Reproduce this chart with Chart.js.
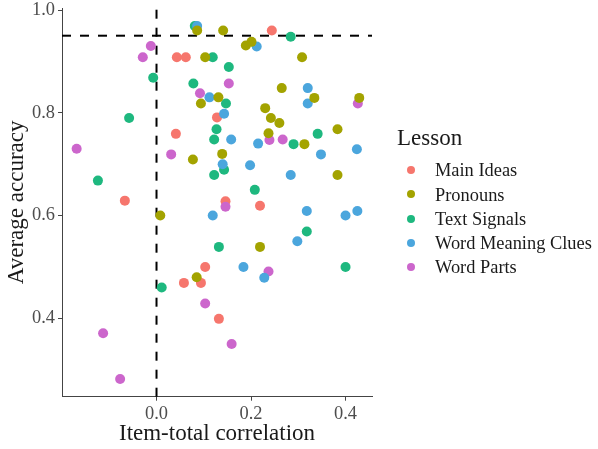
<!DOCTYPE html>
<html><head><meta charset="utf-8">
<script src="https://cdn.jsdelivr.net/npm/chart.js@4/dist/chart.umd.min.js"></script>
<style>
html,body{margin:0;padding:0;background:#fff;}
#wrap{position:relative;width:598px;height:449px;overflow:hidden;}
#c{position:absolute;left:0;top:0;}
.lg{position:absolute;font-family:"Liberation Serif","Times New Roman",serif;color:#1a1a1a;line-height:1;white-space:nowrap;}
.dot{position:absolute;width:8px;height:8px;border-radius:50%;}
</style></head><body>
<div id="wrap"><canvas id="c" width="598" height="449"></canvas><div id="legend"></div></div>
<script>
// ---- data ----
const lessons = ["Main Ideas", "Pronouns", "Text Signals", "Word Meaning Clues", "Word Parts"];
const lessonColors = ["#F6766D", "#A3A300", "#1EB87F", "#4BA6DD", "#CC66CC"];

const mainIdeasX = [0.244, 0.043, 0.062, 0.128, 0.041, -0.067, 0.146, 0.219, 0.103, 0.058, 0.094, 0.132];
const mainIdeasY = [0.960, 0.908, 0.908, 0.791, 0.759, 0.629, 0.628, 0.619, 0.500, 0.469, 0.469, 0.399];

const pronounsX = [0.086, 0.141, 0.189, 0.201, 0.103, 0.308, 0.265, 0.131, 0.334, 0.429, 0.094, 0.230, 0.242, 0.260, 0.237, 0.383, 0.313, 0.139, 0.077, 0.383, 0.008, 0.219, 0.085];
const pronounsY = [0.960, 0.960, 0.931, 0.938, 0.908, 0.908, 0.848, 0.830, 0.829, 0.829, 0.818, 0.809, 0.790, 0.780, 0.760, 0.768, 0.739, 0.720, 0.709, 0.679, 0.600, 0.539, 0.480];

const textSignalsX = [0.081, 0.284, 0.119, 0.153, -0.007, 0.078, 0.147, -0.058, 0.127, 0.341, 0.122, 0.290, 0.143, 0.122, -0.124, 0.208, 0.318, 0.132, 0.400, 0.011];
const textSignalsY = [0.969, 0.948, 0.908, 0.889, 0.868, 0.857, 0.818, 0.790, 0.768, 0.759, 0.748, 0.739, 0.689, 0.679, 0.668, 0.650, 0.569, 0.539, 0.500, 0.460];

const wordMeaningX = [0.086, 0.212, 0.320, 0.112, 0.320, 0.143, 0.158, 0.215, 0.424, 0.348, 0.140, 0.198, 0.284, 0.318, 0.425, 0.119, 0.400, 0.298, 0.184, 0.228];
const wordMeaningY = [0.969, 0.929, 0.848, 0.830, 0.818, 0.798, 0.748, 0.740, 0.729, 0.719, 0.700, 0.698, 0.679, 0.609, 0.609, 0.600, 0.600, 0.550, 0.500, 0.479];

const wordPartsX = [-0.012, -0.029, 0.153, 0.092, 0.426, 0.239, 0.267, -0.169, 0.031, 0.146, 0.237, 0.103, -0.113, 0.159, -0.077];
const wordPartsY = [0.930, 0.908, 0.857, 0.838, 0.818, 0.747, 0.748, 0.730, 0.719, 0.617, 0.491, 0.429, 0.371, 0.350, 0.282];

const xTicks = [0.0, 0.2, 0.4];
const yTicks = [0.4, 0.6, 0.8, 1.0];
const xRef = 0;      // vertical dashed reference
const yRef = 0.95;   // horizontal dashed reference
const xTitle = "Item-total correlation";
const yTitle = "Average accuracy";
const legendTitle = "Lesson";

// ---- build ----
const seriesX = [mainIdeasX, pronounsX, textSignalsX, wordMeaningX, wordPartsX];
const seriesY = [mainIdeasY, pronounsY, textSignalsY, wordMeaningY, wordPartsY];
const drawOrder = [4, 0, 2, 1, 3];

const FONT = '"Liberation Serif", "Times New Roman", serif';

const datasets = lessons.map((name, i) => ({
  label: name,
  data: seriesX[i].map((x, k) => ({x: x, y: seriesY[i][k]})),
  backgroundColor: lessonColors[i],
  borderWidth: 0,
  pointRadius: 5,
  pointHoverRadius: 5,
  order: drawOrder[i]
}));

const refLines = {
  id: 'refLines',
  beforeDatasetsDraw(chart) {
    const {ctx, chartArea: a, scales: {x, y}} = chart;
    ctx.save();
    ctx.strokeStyle = '#000';
    ctx.lineWidth = 2;
    ctx.setLineDash([9, 9]);
    const px = x.getPixelForValue(xRef);
    ctx.beginPath(); ctx.moveTo(px, a.bottom); ctx.lineTo(px, a.top); ctx.stroke();
    const py = y.getPixelForValue(yRef);
    ctx.beginPath(); ctx.moveTo(a.left, py); ctx.lineTo(a.right, py); ctx.stroke();
    ctx.restore();
  }
};

new Chart(document.getElementById('c'), {
  type: 'scatter',
  data: {datasets},
  plugins: [refLines],
  options: {
    responsive: false,
    animation: false,
    devicePixelRatio: 1,
    layout: {padding: {top: 8, right: 226, bottom: 0, left: 0}},
    plugins: {legend: {display: false}, tooltip: {enabled: false}},
    events: [],
    scales: {
      x: {
        type: 'linear', min: -0.200, max: 0.456,
        afterBuildTicks: s => { s.ticks = xTicks.map(v => ({value: v})); },
        afterFit: s => { s.height = 52.3; s.paddingLeft = 0; s.paddingRight = 0; },
        ticks: {callback: v => Number(v).toFixed(1), color: '#4D4D4D', font: {family: FONT, size: 18.4}, padding: 2, maxRotation: 0},
        grid: {drawOnChartArea: false, drawTicks: true, tickLength: 4, color: '#444'},
        border: {display: true, color: '#444', width: 1},
        title: {display: true, text: xTitle, color: '#1a1a1a', font: {family: FONT, size: 23}, padding: {top: 0, bottom: 1}}
      },
      y: {
        type: 'linear', min: 0.2475, max: 1.0039,
        afterBuildTicks: s => { s.ticks = yTicks.map(v => ({value: v})); },
        afterFit: s => { s.width = 62; s.paddingTop = 0; s.paddingBottom = 0; },
        ticks: {callback: v => Number(v).toFixed(1), color: '#4D4D4D', font: {family: FONT, size: 18.4}, padding: 3},
        grid: {drawOnChartArea: false, drawTicks: true, tickLength: 4, color: '#444'},
        border: {display: true, color: '#444', width: 1},
        title: {display: true, text: yTitle, color: '#1a1a1a', font: {family: FONT, size: 23}, padding: {top: 3, bottom: 0}}
      }
    }
  }
});

// ---- legend (HTML text) ----
const lg = document.getElementById('legend');
function addText(txt, left, baseline, size) {
  const d = document.createElement('div');
  d.className = 'lg';
  d.style.fontSize = size + 'px';
  d.style.left = left + 'px';
  d.style.top = (baseline - 0.8375 * size) + 'px';
  d.textContent = txt;
  lg.appendChild(d);
}
addText(legendTitle, 397, 145, 23);
const itemBase0 = 176.7, itemStep = 24.3;
lessons.forEach((name, i) => {
  const base = itemBase0 + i * itemStep;
  const dot = document.createElement('div');
  dot.className = 'dot';
  dot.style.background = lessonColors[i];
  dot.style.left = (410.7 - 4) + 'px';
  dot.style.top = (base - 6.7 - 4) + 'px';
  lg.appendChild(dot);
  addText(name, 435, base, 18.4);
});
</script>
</body></html>
